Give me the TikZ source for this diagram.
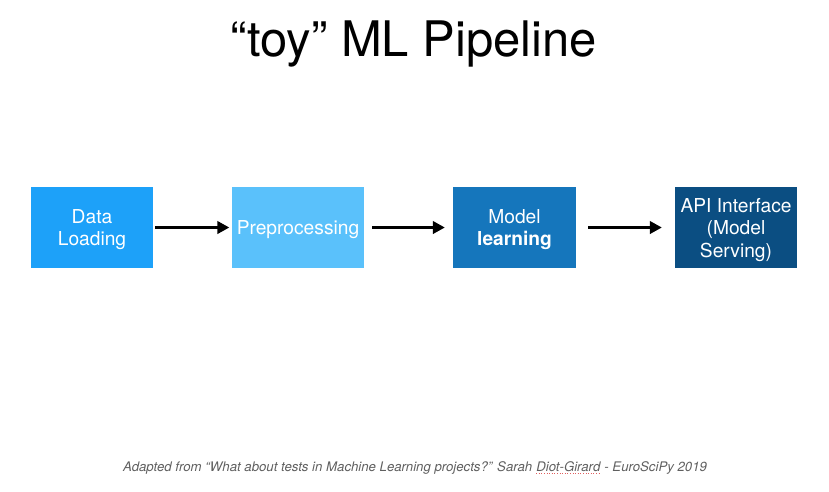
\documentclass[tikz,border=0pt]{standalone}
\usepackage{fontspec}
\setmainfont{TeX Gyre Heros}
\usetikzlibrary{arrows.meta}
\definecolor{cLoad}{HTML}{1DA1F9}
\definecolor{cPrep}{HTML}{5AC1FB}
\definecolor{cLearn}{HTML}{1576BC}
\definecolor{cServe}{HTML}{0B4E82}
\definecolor{cNote}{HTML}{5F5F5F}
\definecolor{cSpell}{HTML}{E06060}
\begin{document}
\begin{tikzpicture}[x=1pt,y=-1pt,
  stage/.style={minimum width=122pt,minimum height=81pt,inner sep=1pt,
    text depth=0pt,align=center,text=white,
    font=\fontsize{19.2}{22.5}\selectfont},
  flow/.style={line width=2.6pt,-{Triangle[length=12pt,width=12.5pt]}},
  note/.style={inner sep=0pt,anchor=base west,text=cNote,
    font=\fontsize{13.2}{15}\selectfont\itshape}]
\useasboundingbox (0,0) rectangle (829,491);
% title
\node[font=\fontsize{49}{52}\selectfont] (title) at (414,44) {“toy” ML Pipeline};
% pipeline stages
\node[stage,fill=cLoad] (load) at (92,227.5) {Data\\Loading};
\node[stage,fill=cPrep,minimum width=132pt] (prep) at (298,227.5) {Preprocessing};
\node[stage,fill=cLearn,minimum width=123pt] (learn) at (514.5,227.5) {Model\\\textbf{learning}};
\node[stage,fill=cServe] (serve) at (736,227.5) {API Interface\\(Model\\Serving)};
% connectors
\draw[flow,shorten <=2pt,shorten >=2.5pt] (load.east) -- (prep.west);
\draw[flow,shorten <=8pt,shorten >=8pt] (prep.east) -- (learn.west);
\draw[flow,shorten <=12pt,shorten >=13pt] (learn.east) -- (serve.west);
% credit line
\node[note] (f1) at (123,471) {Adapted from “What about tests in Machine Learning projects?” Sarah\kern0.28em};
\node[note] (f2) at (f1.base east) {Diot-Girard};
\node[note] (f3) at (f2.base east) {\kern0.28em- EuroSciPy 2019};
\draw[cSpell,line width=0.6pt,dotted] ([yshift=-2.5pt]f2.base west) -- ([yshift=-2.5pt]f2.base east);
\end{tikzpicture}
\end{document}
